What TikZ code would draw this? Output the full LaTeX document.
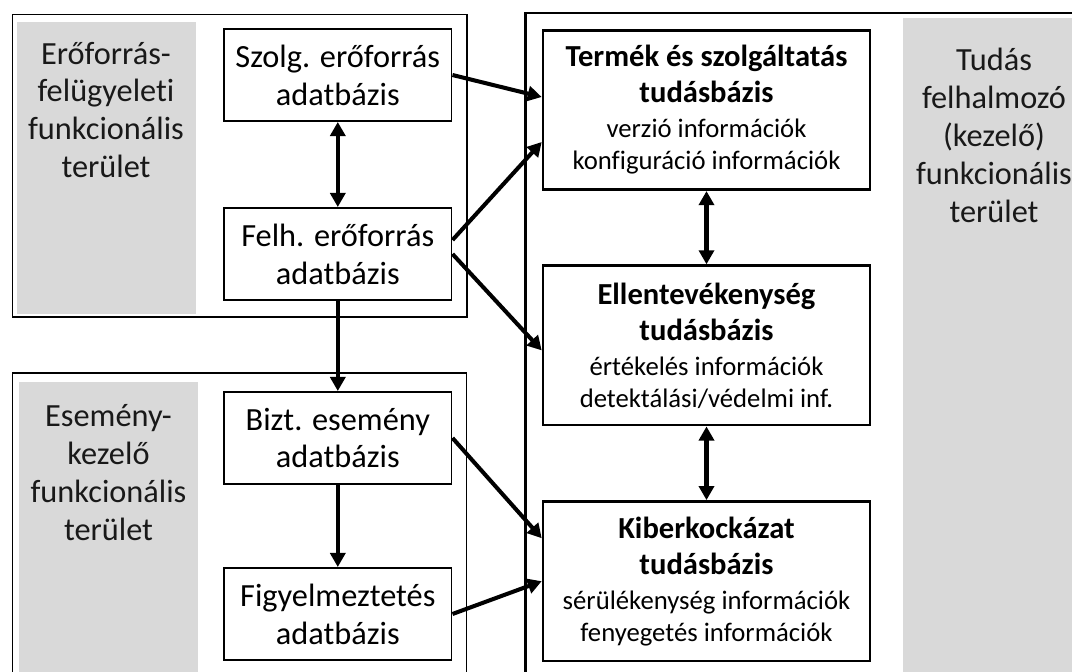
\documentclass[tikz,border=0pt]{standalone}
\usepackage{fontspec}
\setmainfont{Carlito}[RawFeature=-liga]
\usetikzlibrary{arrows.meta,calc}
\definecolor{panelgray}{HTML}{D9D9D9}
\newcommand\kbtitle{\bfseries\fontsize{17.4}{20.5}\selectfont}
\newcommand\kbsub{\normalfont\fontsize{15.2}{18.2}\selectfont}
\begin{document}
\begin{tikzpicture}[x=0.02cm, y=-0.02cm, >={Triangle[length=8pt,width=8.5pt]}]
	\tikzset{dbbox/.style={draw, line width=1.1pt, fill=white, minimum width=4.55cm, minimum height=1.84cm, inner sep=0pt, align=center, font=\fontsize{18.4}{21.6}\selectfont}}
	\tikzset{kbbox/.style={draw, line width=1.5pt, fill=white, minimum width=6.54cm, minimum height=3.19cm, inner sep=0pt, align=center, font=\fontsize{15.2}{18.2}\selectfont}}
	\tikzset{arealabel/.style={align=center, inner sep=0pt, text=black!90, font=\fontsize{18.4}{21.6}\selectfont}}
	\tikzset{link/.style={->, line width=2.3pt}}
	\useasboundingbox (0,0) rectangle (1072,672);
	\clip (0,0) rectangle (1072,672);
	% functional areas
	\draw[line width=1.1pt] (12.5,14.5) rectangle (467,317);
	\fill[panelgray] (16.5,21.7) rectangle (195.6,314);
	\draw[line width=1.1pt] (12.5,372.7) rectangle (466.5,690);
	\fill[panelgray] (19,381.7) rectangle (198,690);
	\draw[line width=1.3pt] (525.5,12.7) rectangle (1090,690);
	\fill[panelgray] (903,18) rectangle (1090,690);
	\node[arealabel] (eroforras) at (106,110) {Erőforrás-\\felügyeleti\\funkcionális\\terület};
	\node[arealabel] (esemeny) at (108.5,472.5) {Esemény-\\kezelő\\funkcionális\\terület};
	\node[arealabel] (tudas) at (994,135) {Tudás\\felhalmozó\\(kezelő)\\funkcionális\\terület};
	% databases
	\node[dbbox] (szolg) at (337.8,75) {Szolg. erőforrás\\adatbázis};
	\node[dbbox] (felh) at (337.8,254) {Felh. erőforrás\\adatbázis};
	\node[dbbox] (bizt) at (337.8,438) {Bizt. esemény\\adatbázis};
	\node[dbbox] (figy) at (337.8,614) {Figyelmeztetés\\adatbázis};
	% knowledge bases
	\node[kbbox] (termek) at (706.5,110) {\kbtitle Termék és szolgáltatás\\[2.3pt]\kbtitle tudásbázis\\[1.7pt]\kbsub verzió információk\\\kbsub konfiguráció információk};
	\node[kbbox] (ellen) at (706.5,345.4) {\kbtitle Ellentevékenység\\[2.3pt]\kbtitle tudásbázis\\[1.7pt]\kbsub értékelés információk\\\kbsub detektálási/védelmi inf.};
	\node[kbbox] (kiber) at (706.5,581.2) {\kbtitle Kiberkockázat\\[2.3pt]\kbtitle tudásbázis\\[1.7pt]\kbsub sérülékenység információk\\\kbsub fenyegetés információk};
	% connectors
	\draw[link,<->] (szolg.south) -- (felh.north);
	\draw[link] (felh.south) -- (bizt.north);
	\draw[link] (bizt.south) -- (figy.north);
	\draw[link,<->] (termek.south) -- (ellen.north);
	\draw[link,<->] (ellen.south) -- (kiber.north);
	\draw[link] (szolg.east) -- ($(termek.west)+(0,-13)$);
	\draw[link] ($(felh.east)+(0,-14)$) -- ($(termek.west)+(0,32)$);
	\draw[link] (felh.east) -- ($(ellen.west)+(0,5)$);
	\draw[link] (bizt.east) -- ($(kiber.west)+(0,-43)$);
	\draw[link] (figy.east) -- (kiber.west);
\end{tikzpicture}
\end{document}
